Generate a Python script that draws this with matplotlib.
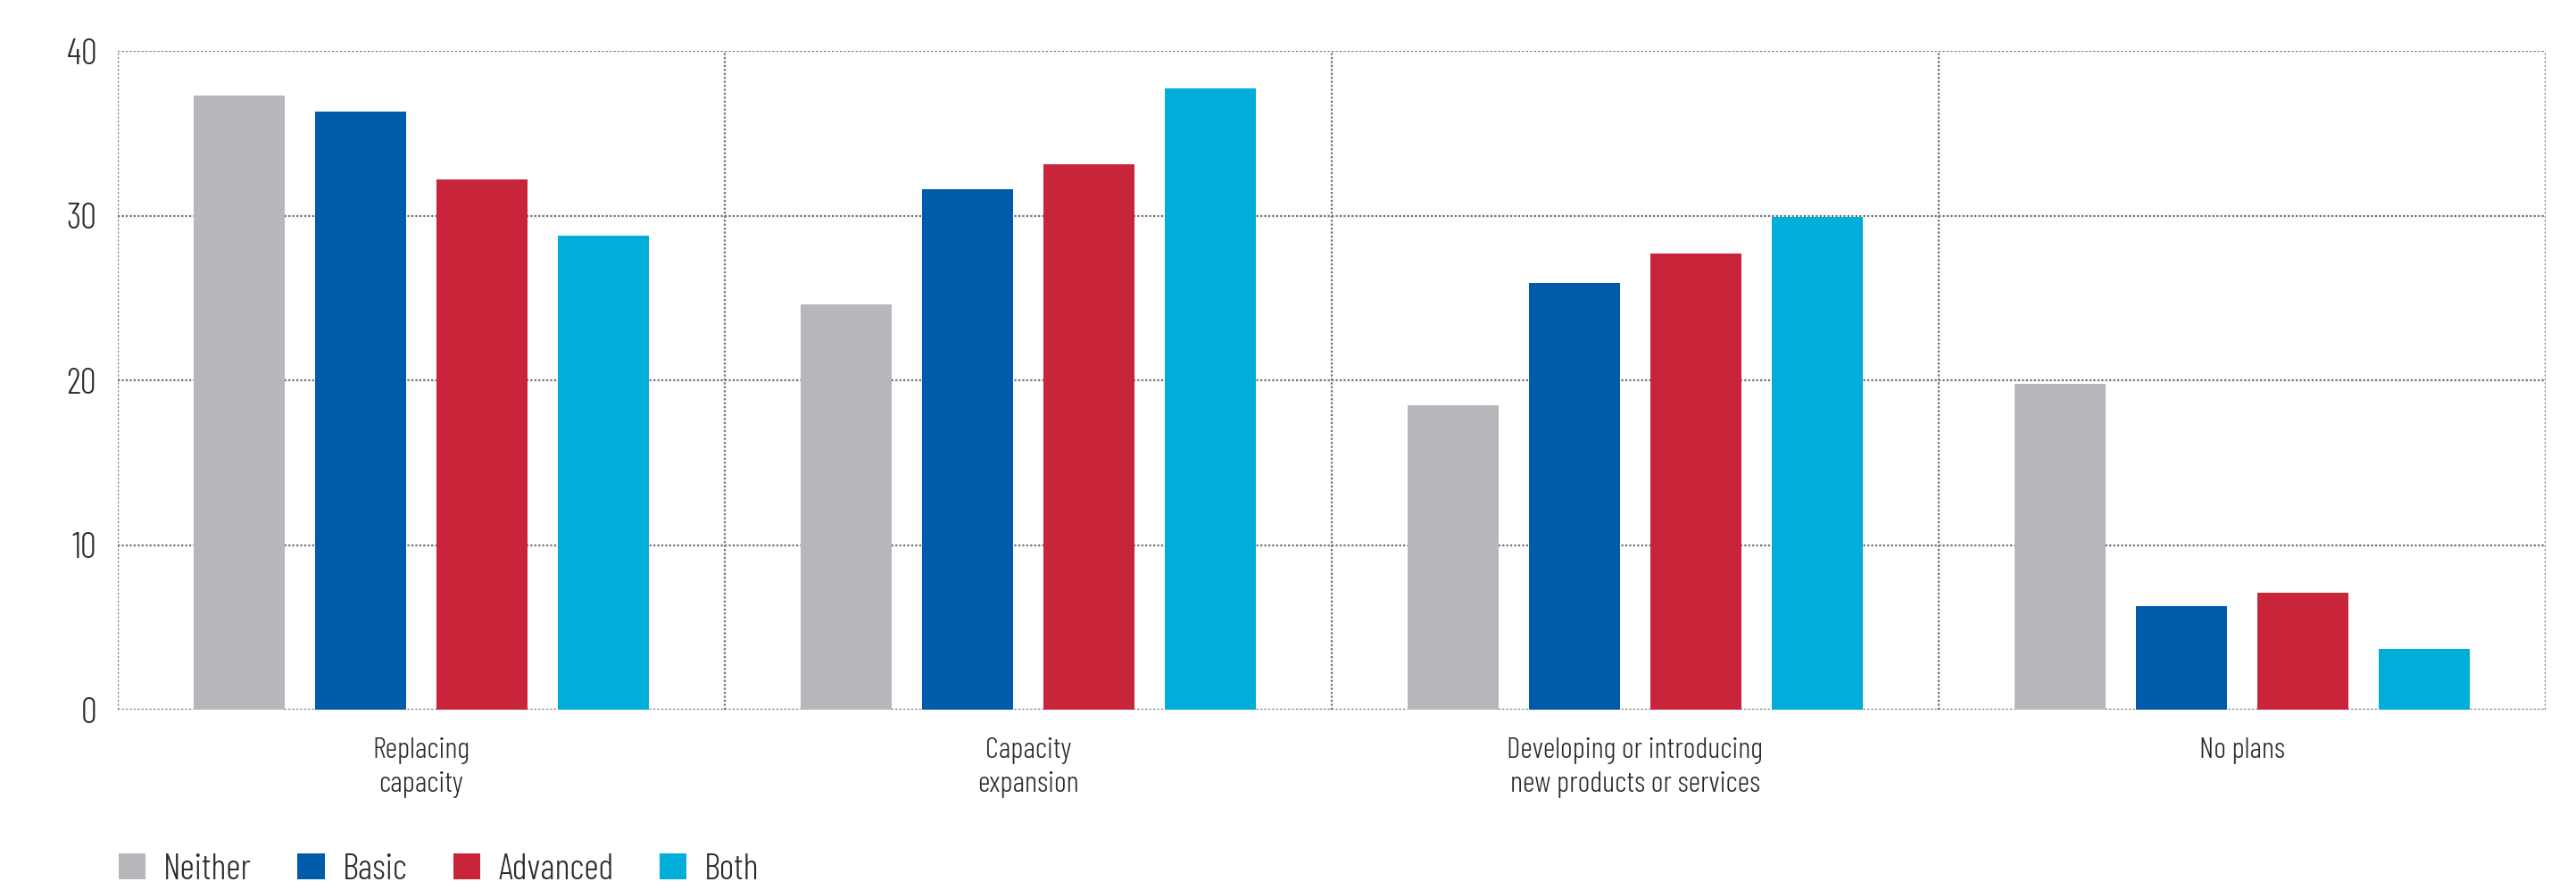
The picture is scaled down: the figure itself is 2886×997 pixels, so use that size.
import matplotlib
matplotlib.use("Agg")
import matplotlib.pyplot as plt
from matplotlib.patches import Patch
import numpy as np

categories = ["Replacing\ncapacity", "Capacity\nexpansion",
              "Developing or introducing\nnew products or services", "No plans"]
series_names = ["Neither", "Basic", "Advanced", "Both"]
neither = [37.3, 24.6, 18.5, 19.8]
basic = [36.3, 31.6, 25.9, 6.3]
advanced = [32.2, 33.1, 27.7, 7.1]
both = [28.8, 37.7, 29.9, 3.7]
yticks = [0, 10, 20, 30, 40]
colors = ["#B6B7BA", "#005BAA", "#C8243A", "#00AED9"]

plt.rcParams["font.family"] = ["Barlow Condensed", "Liberation Sans Narrow", "DejaVu Sans"]
plt.rcParams["font.weight"] = 300
txt = "#2b2b2b"

fig = plt.figure(figsize=(28.86, 9.97), dpi=100)
ax = fig.add_axes([0.0457, 0.2026, 0.9425, 0.7402])

data = [neither, basic, advanced, both]
x = np.arange(len(categories))
offsets = [0.2, 0.4, 0.6, 0.8]
for vals, off, c, nm in zip(data, offsets, colors, series_names):
    ax.bar(x + off, vals, width=0.15, color=c, label=nm, zorder=3)

ax.set_xlim(0, 4)
ax.set_ylim(0, 40)
for s in ax.spines.values():
    s.set_visible(False)
grid_kw = dict(color="#6e6e6e", linestyle=(0, (1, 1)), linewidth=1.6, zorder=1)
for yv in yticks:
    ax.axhline(yv, **grid_kw)
for xv in range(0, 5):
    ax.axvline(xv, **grid_kw)

ax.set_yticks(yticks)
ax.set_yticklabels([str(v) for v in yticks], fontsize=29, color=txt)
ax.tick_params(axis="y", length=0, pad=17)
ax.set_xticks(x + 0.5)
ax.set_xticklabels(categories, fontsize=24, color=txt, linespacing=1.38)
ax.tick_params(axis="x", length=0, pad=22)

handles = [Patch(facecolor=c, edgecolor="none") for c in colors]
fig.legend(handles, series_names, loc="center left", bbox_to_anchor=(0.0405, 0.023),
           ncol=4, frameon=False, fontsize=29, handlelength=0.75, handleheight=0.75,
           handletextpad=0.5, columnspacing=1.27, borderaxespad=0, labelcolor=txt)

fig.savefig("out.png", dpi=100, facecolor="white")
